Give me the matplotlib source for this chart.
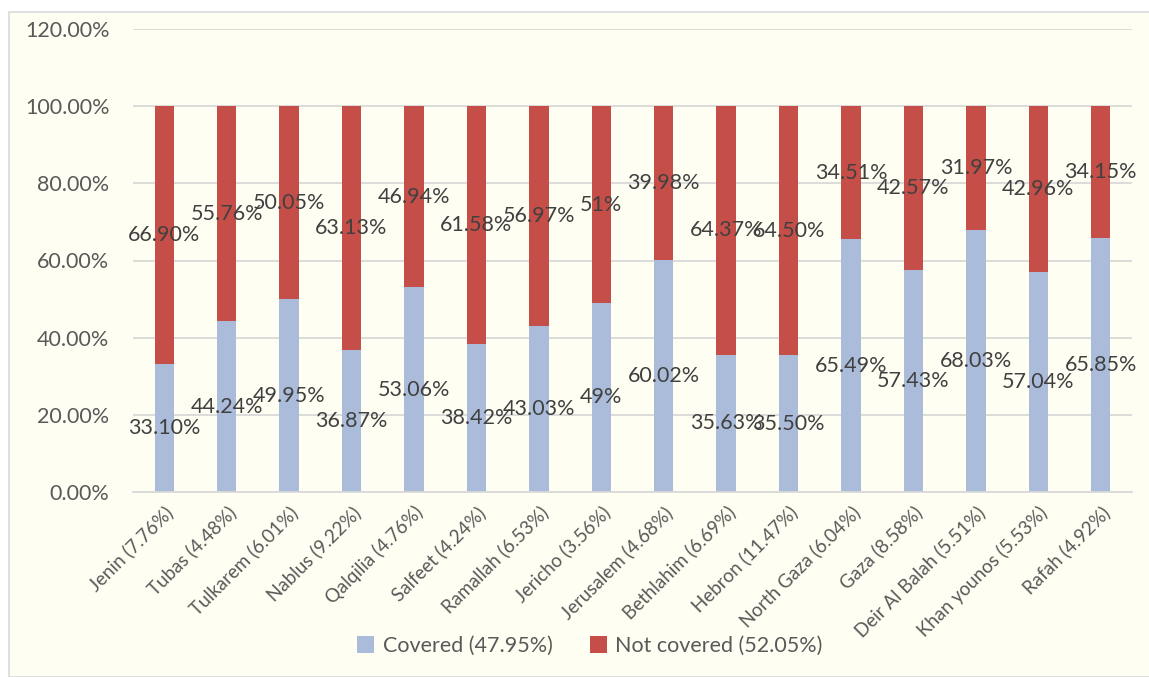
import matplotlib.pyplot as plt
from matplotlib.patches import Rectangle

# === DATOS ===
districts = ['Jenin (7.76%)', 'Tubas (4.48%)', 'Tulkarem (6.01%)', 'Nablus (9.22%)',
             'Qalqilia (4.76%)', 'Salfeet (4.24%)', 'Ramallah (6.53%)', 'Jericho (3.56%)',
             'Jerusalem (4.68%)', 'Bethlahim (6.69%)', 'Hebron (11.47%)', 'North Gaza (6.04%)',
             'Gaza (8.58%)', 'Deir Al Balah (5.51%)', 'Khan younos (5.53%)', 'Rafah (4.92%)']
covered = [33.10, 44.24, 49.95, 36.87, 53.06, 38.42, 43.03, 49.0,
           60.02, 35.63, 35.50, 65.49, 57.43, 68.03, 57.04, 65.85]
not_covered = [66.90, 55.76, 50.05, 63.13, 46.94, 61.58, 56.97, 51.0,
               39.98, 64.37, 64.50, 34.51, 42.57, 31.97, 42.96, 34.15]
covered_lbl = ['33.10%', '44.24%', '49.95%', '36.87%', '53.06%', '38.42%', '43.03%', '49%',
               '60.02%', '35.63%', '35.50%', '65.49%', '57.43%', '68.03%', '57.04%', '65.85%']
not_covered_lbl = ['66.90%', '55.76%', '50.05%', '63.13%', '46.94%', '61.58%', '56.97%', '51%',
                   '39.98%', '64.37%', '64.50%', '34.51%', '42.57%', '31.97%', '42.96%', '34.15%']
legend_names = ['Covered (47.95%)', 'Not covered (52.05%)']
yticks = [0, 20, 40, 60, 80, 100, 120]

# === ESTILO ===
plt.rcParams['font.family'] = ['Lato', 'DejaVu Sans']
c_blue = '#AABCDA'
c_red = '#C54E48'
c_text = '#595959'
bg = '#FFFEF3'

fig = plt.figure(figsize=(11.49, 6.77), dpi=100)
fig.patch.set_facecolor('white')
# marco del grafico (estilo Excel)
fig.patches.append(Rectangle((9 / 1149, 0), 1.0, 1 - 12 / 677, transform=fig.transFigure,
                             facecolor=bg, edgecolor='#D9D9D9', linewidth=1.2, zorder=-5))

ax = fig.add_axes([133 / 1149, 1 - 492 / 677, (1132 - 133) / 1149, (492 - 29) / 677])
ax.set_facecolor('none')
ax.set_zorder(2)

x = range(len(districts))
b1 = ax.bar(x, covered, width=0.31, color=c_blue, label=legend_names[0], zorder=2)
b2 = ax.bar(x, not_covered, width=0.31, bottom=covered, color=c_red, label=legend_names[1], zorder=2)

ax.bar_label(b1, labels=covered_lbl, label_type='center', fontsize=15.5, color='#404040', zorder=3)
ax.bar_label(b2, labels=not_covered_lbl, label_type='center', fontsize=15.5, color='#404040', zorder=3)

ax.set_ylim(0, 120)
ax.set_xlim(-0.5, len(districts) - 0.5)
ax.set_yticks(yticks)
ax.set_yticklabels([f'{v:.2f}%' for v in yticks], fontsize=15.5, color=c_text)
ax.set_xticks(list(x))
ax.set_xticklabels(districts, rotation=45, ha='right', rotation_mode='anchor',
                   fontsize=13.5, color=c_text)
ax.tick_params(axis='x', length=0, pad=8)
ax.tick_params(axis='y', length=0, pad=17)

ax.yaxis.grid(True, color='#D9D9D9', linewidth=1.3, zorder=0)
ax.set_axisbelow(True)
for s in ['top', 'right', 'left']:
    ax.spines[s].set_visible(False)
ax.spines['bottom'].set_color('#D9D9D9')
ax.spines['bottom'].set_linewidth(1.3)

fig.legend(loc='center', bbox_to_anchor=(590 / 1149, 1 - 646 / 677), ncol=2, frameon=False,
           fontsize=15.5, labelcolor=c_text, handlelength=0.8, handleheight=0.8,
           handletextpad=0.4, columnspacing=1.7)

plt.savefig('out.png', dpi=100, facecolor=fig.get_facecolor())
